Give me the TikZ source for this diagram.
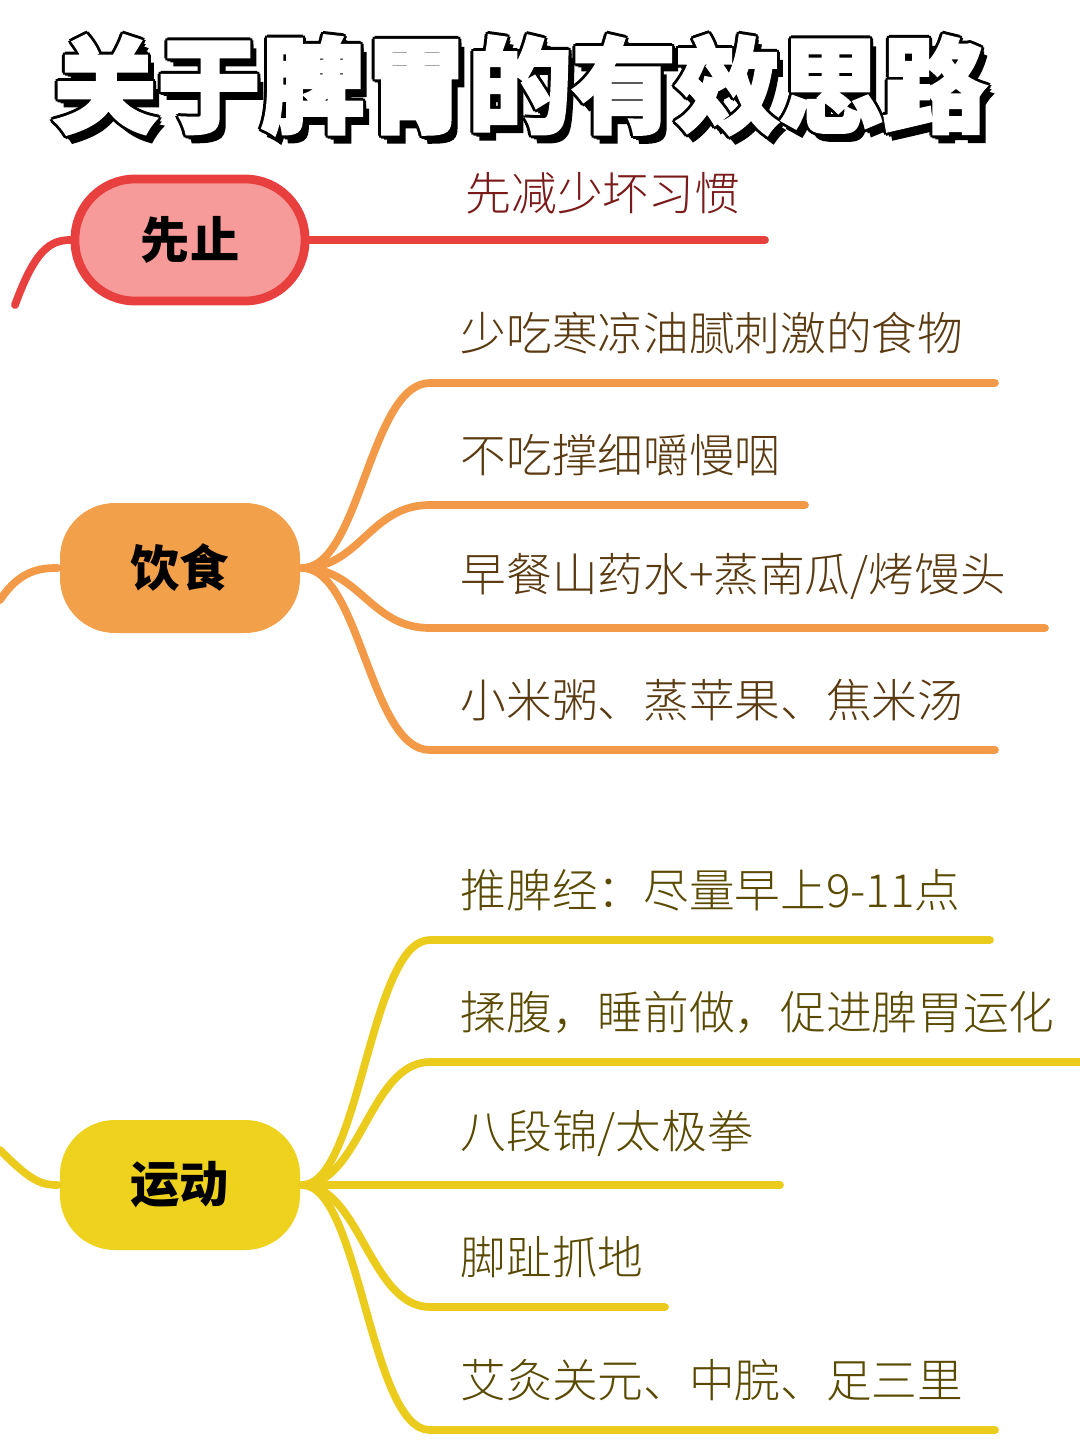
\documentclass[tikz,border=0pt]{standalone}
\usepackage{fontspec}
\setmainfont{Noto Sans CJK SC}
\newfontfamily\titlefont[FakeBold=3]{Noto Sans CJK SC Black}
\newfontfamily\leaffont{Noto Sans CJK SC Light}
\usetikzlibrary{positioning}
\definecolor{redline}{HTML}{E8403F}
\definecolor{redfill}{HTML}{F79A9A}
\definecolor{orgline}{HTML}{F29A48}
\definecolor{orgfill}{HTML}{F3A04A}
\definecolor{yelline}{HTML}{EBCB1C}
\definecolor{yelfill}{HTML}{EFD21E}
\definecolor{redtext}{HTML}{7A1A1A}
\definecolor{orgtext}{HTML}{5A3A10}
\definecolor{yeltext}{HTML}{5A4A00}
\tikzset{
  topic/.style={rounded corners=0.55cm, minimum width=2.4cm, minimum height=1.3cm,
    font=\fontsize{14}{14}\selectfont\bfseries, line width=1.2pt},
  leaf/.style={anchor=south west, inner sep=0pt, font=\leaffont\fontsize{13}{14}\selectfont},
  branch/.style={line width=2.2pt, line cap=round},
  titletext/.style={font=\titlefont\fontsize{29.5}{30}\selectfont}
}
\begin{document}
\begin{tikzpicture}
\useasboundingbox (0,0) rectangle (10.8,-14.43);
\fill[white] (0,0) rectangle (10.8,-14.43);
% title
\foreach \dx/\dy in {0.06/-0.08,0.03/-0.04,0/0.03,0/-0.03,0.03/0,-0.03/0,0.02/0.02,-0.02/-0.02,0.02/-0.02,-0.02/0.02}
  \node[titletext, black] at (5.2+\dx,-0.85+\dy) {关于脾胃的有效思路};
\node[titletext, white] (title) at (5.2,-0.85) {关于脾胃的有效思路};

% 先止
\node[topic, draw=redline, line width=2.5pt, fill=redfill, minimum width=2.3cm, minimum height=1.22cm, rounded corners=0.6cm] (xz) at (1.9,-2.4) {先止};
\coordinate (xzin) at (0.15,-3.05);
\coordinate (xzend) at (7.65,-2.4);
\draw[branch, redline] (xzin) .. controls (0.35,-2.5) and (0.5,-2.4) .. (xz.west);
\draw[branch, redline] (xz.east) -- (xzend);
\node[leaf, text=redtext] (xzt) at (4.65,-2.15) {先减少坏习惯};

% 饮食
\node[topic, fill=orgfill] (ys) at (1.8,-5.68) {饮食};
\coordinate (ysin) at (0,-6.0);
\draw[branch, orgline] (ysin) .. controls (0.2,-5.7) and (0.4,-5.68) .. (ys.west);
\foreach \y/\xe/\txt [count=\i] in {3.83/9.95/{少吃寒凉油腻刺激的食物}, 5.05/8.05/{不吃撑细嚼慢咽}, 6.28/10.45/{早餐山药水+蒸南瓜/烤馒头}, 7.50/9.95/{小米粥、蒸苹果、焦米汤}}
{
  \coordinate (ysl\i) at (4.3,-\y);
  \coordinate (ysr\i) at (\xe,-\y);
  \draw[branch, orgline] (ys.east) .. controls (3.6,-5.68) and (3.7,-\y) .. (ysl\i) -- (ysr\i);
  \node[leaf, text=orgtext] (yst\i) at (4.6,-\y+0.28) {\txt};
}

% 运动
\node[topic, fill=yelfill] (yd) at (1.8,-11.85) {运动};
\coordinate (ydin) at (0,-11.5);
\draw[branch, yelline] (ydin) .. controls (0.3,-11.8) and (0.4,-11.85) .. (yd.west);
\foreach \y/\xe/\txt [count=\i] in {9.40/9.90/{推脾经：尽量早上9-11点}, 10.62/10.8/{揉腹，睡前做，促进脾胃运化}, 11.85/7.80/{八段锦/太极拳}, 13.07/6.65/{脚趾抓地}, 14.30/9.95/{艾灸关元、中脘、足三里}}
{
  \coordinate (ydl\i) at (4.3,-\y);
  \coordinate (ydr\i) at (\xe,-\y);
  \draw[branch, yelline] (yd.east) .. controls (3.6,-11.85) and (3.7,-\y) .. (ydl\i) -- (ydr\i);
  \node[leaf, text=yeltext] (ydt\i) at (4.6,-\y+0.28) {\txt};
}
\end{tikzpicture}
\end{document}
